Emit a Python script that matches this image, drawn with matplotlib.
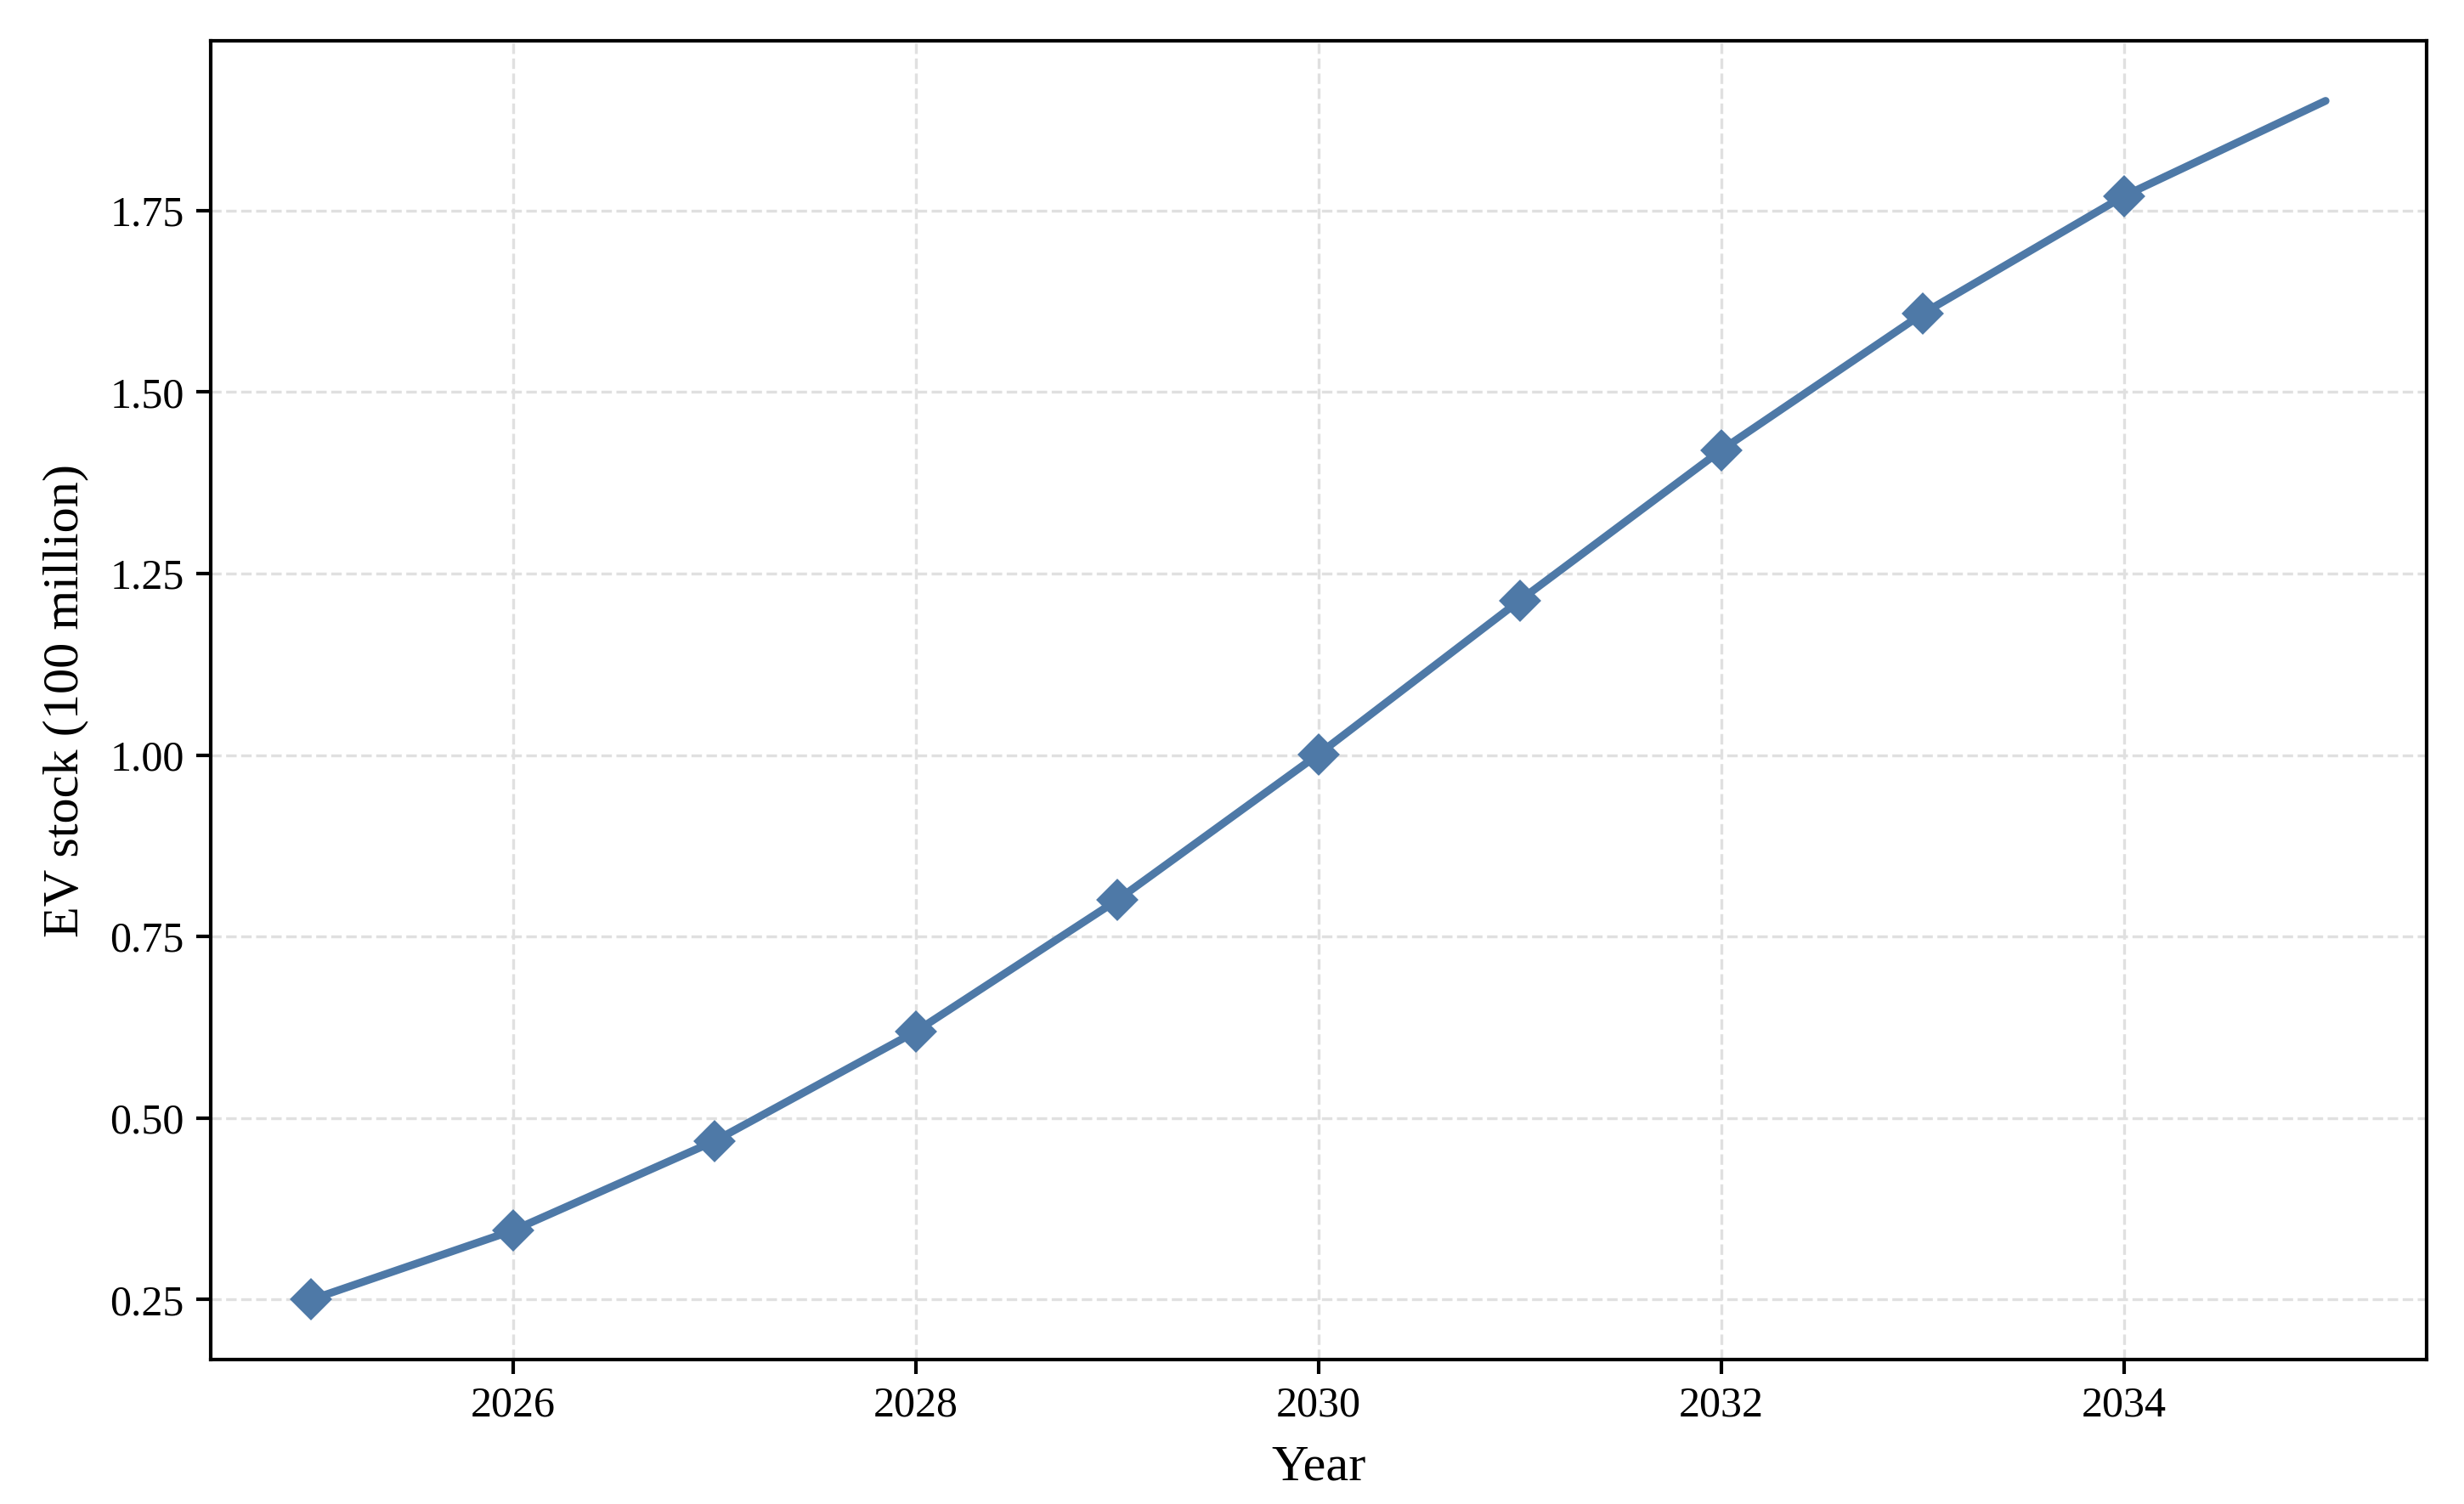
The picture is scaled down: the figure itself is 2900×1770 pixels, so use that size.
import matplotlib
matplotlib.use("Agg")
import matplotlib.pyplot as plt
from matplotlib.ticker import MultipleLocator, FormatStrFormatter

years = [2025, 2026, 2027, 2028, 2029, 2030, 2031, 2032, 2033, 2034, 2035]
ev_stock = [0.250, 0.345, 0.468, 0.619, 0.800, 1.001, 1.213, 1.420, 1.608, 1.770, 1.901]
x_label = "Year"
y_label = "EV stock (100 million)"

plt.rcParams['font.family'] = ['Liberation Serif', 'DejaVu Serif']

fig = plt.figure(figsize=(2900/300, 1770/300), dpi=300)
ax = fig.add_axes([0.0855, 0.0961, 0.8992, 0.8767])

ax.plot(years, ev_stock, color='#4E79A7', lw=2.2, marker='D', markersize=7.5,
        markevery=list(range(len(years) - 1)), solid_capstyle='round')

ax.grid(True, linestyle='--', color='#e0e0e0', linewidth=0.8)
ax.set_axisbelow(True)
ax.yaxis.set_major_locator(MultipleLocator(0.25))
ax.yaxis.set_major_formatter(FormatStrFormatter('%.2f'))
ax.xaxis.set_major_locator(MultipleLocator(2))
ax.tick_params(labelsize=12, length=4, width=1, colors='black')
for s in ax.spines.values():
    s.set_color('black')
    s.set_linewidth(1.0)
ax.set_xlabel(x_label, fontsize=14.5, labelpad=5.5)
ax.set_ylabel(y_label, fontsize=14.5, labelpad=6)

fig.savefig("out.png", dpi=300, facecolor='white')
